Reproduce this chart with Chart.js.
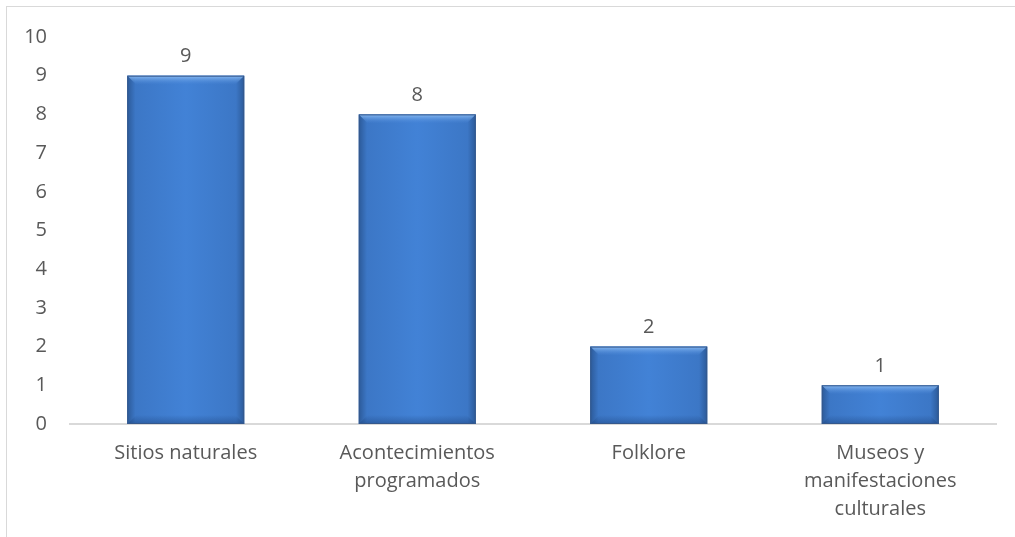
<!DOCTYPE html>
<html>
<head>
<meta charset="utf-8">
<script src="https://cdn.jsdelivr.net/npm/chart.js@4/dist/chart.umd.min.js"></script>
<style>
  html, body { margin: 0; padding: 0; background: #fff; }
  #wrap { position: relative; width: 1015px; height: 537px; overflow: hidden; }
  #frame { position: absolute; left: 6px; top: 6px; width: 1020px; height: 560px; border: 1px solid #d9d9d9; box-sizing: border-box; }
  #chart { position: absolute; left: 0; top: 0; }
</style>
</head>
<body>
<div id="wrap">
  <div id="frame"></div>
  <canvas id="chart" width="1015" height="537"></canvas>
</div>
<script>
const categories = [
  "Sitios naturales",
  ["Acontecimientos", "programados"],
  "Folklore",
  ["Museos y", "manifestaciones", "culturales"]
];
const values = [9, 8, 2, 1];
const yTicks = [0, 1, 2, 3, 4, 5, 6, 7, 8, 9, 10];

const textColor = "#595959";
const fontFamily = "'Open Sans', 'Liberation Sans', sans-serif";

const ctx = document.getElementById("chart").getContext("2d");

// draws the bevelled blue look over each bar
const bevelBars = {
  id: "bevelBars",
  afterDatasetsDraw(chart) {
    const c = chart.ctx;
    const meta = chart.getDatasetMeta(0);
    meta.data.forEach((bar) => {
      const left = bar.x - bar.width / 2;
      const right = bar.x + bar.width / 2;
      const top = bar.y;
      const bottom = bar.base;
      const w = right - left;
      const h = bottom - top;
      c.save();
      // body
      const g = c.createLinearGradient(left, 0, right, 0);
      g.addColorStop(0, "#2c5a99");
      g.addColorStop(0.07, "#3c77c6");
      g.addColorStop(0.5, "#4282d6");
      g.addColorStop(0.93, "#3c77c6");
      g.addColorStop(1, "#2c5a99");
      c.fillStyle = g;
      c.fillRect(left, top, w, h);
      // top highlight
      const bev = Math.min(9, h / 3);
      const tg = c.createLinearGradient(0, top, 0, top + bev);
      tg.addColorStop(0, "#8abbf2");
      tg.addColorStop(1, "rgba(80,140,220,0)");
      c.fillStyle = tg;
      c.beginPath();
      c.moveTo(left, top);
      c.lineTo(right, top);
      c.lineTo(right - bev, top + bev);
      c.lineTo(left + bev, top + bev);
      c.closePath();
      c.fill();
      // bottom shade
      const bg = c.createLinearGradient(0, bottom - bev, 0, bottom);
      bg.addColorStop(0, "rgba(30,70,130,0)");
      bg.addColorStop(1, "rgba(30,70,130,0.5)");
      c.fillStyle = bg;
      c.beginPath();
      c.moveTo(left + bev, bottom - bev);
      c.lineTo(right - bev, bottom - bev);
      c.lineTo(right, bottom);
      c.lineTo(left, bottom);
      c.closePath();
      c.fill();
      // outline
      c.strokeStyle = "#35588c";
      c.lineWidth = 1;
      c.strokeRect(left + 0.5, top + 0.5, w - 1, h - 1);
      c.restore();
    });
  }
};

// value labels above the bars
const valueLabels = {
  id: "valueLabels",
  afterDatasetsDraw(chart) {
    const c = chart.ctx;
    const meta = chart.getDatasetMeta(0);
    c.save();
    c.fillStyle = textColor;
    c.font = "20px " + fontFamily;
    c.textAlign = "center";
    c.textBaseline = "middle";
    meta.data.forEach((bar, i) => {
      c.fillText(String(values[i]), bar.x, bar.y - 19);
    });
    c.restore();
  }
};

new Chart(ctx, {
  type: "bar",
  data: {
    labels: categories,
    datasets: [{
      data: values,
      backgroundColor: "#3d79c9",
      borderWidth: 0,
      barPercentage: 0.505,
      categoryPercentage: 1,
    }],
  },
  options: {
    responsive: false,
    animation: false,
    layout: { padding: { top: 37, right: 19, left: 0, bottom: 0 } },
    scales: {
      x: {
        grid: { display: false, drawTicks: false },
        border: { display: true, color: "#d9d9d9", width: 2 },
        ticks: {
          color: textColor,
          font: { size: 20, family: fontFamily, lineHeight: 1.4 },
          padding: 15,
          maxRotation: 0,
          autoSkip: false,
        },
        afterFit(scale) { scale.height = 113; },
      },
      y: {
        min: 0,
        max: 10,
        afterBuildTicks(scale) { scale.ticks = yTicks.map(v => ({ value: v })); },
        grid: { display: false, drawTicks: false },
        border: { display: false },
        ticks: {
          color: textColor,
          font: { size: 20, family: fontFamily },
          padding: 23,
        },
        afterFit(scale) { scale.width = 70; },
      },
    },
    plugins: {
      legend: { display: false },
      tooltip: { enabled: false },
    },
  },
  plugins: [bevelBars, valueLabels],
});
</script>
</body>
</html>
